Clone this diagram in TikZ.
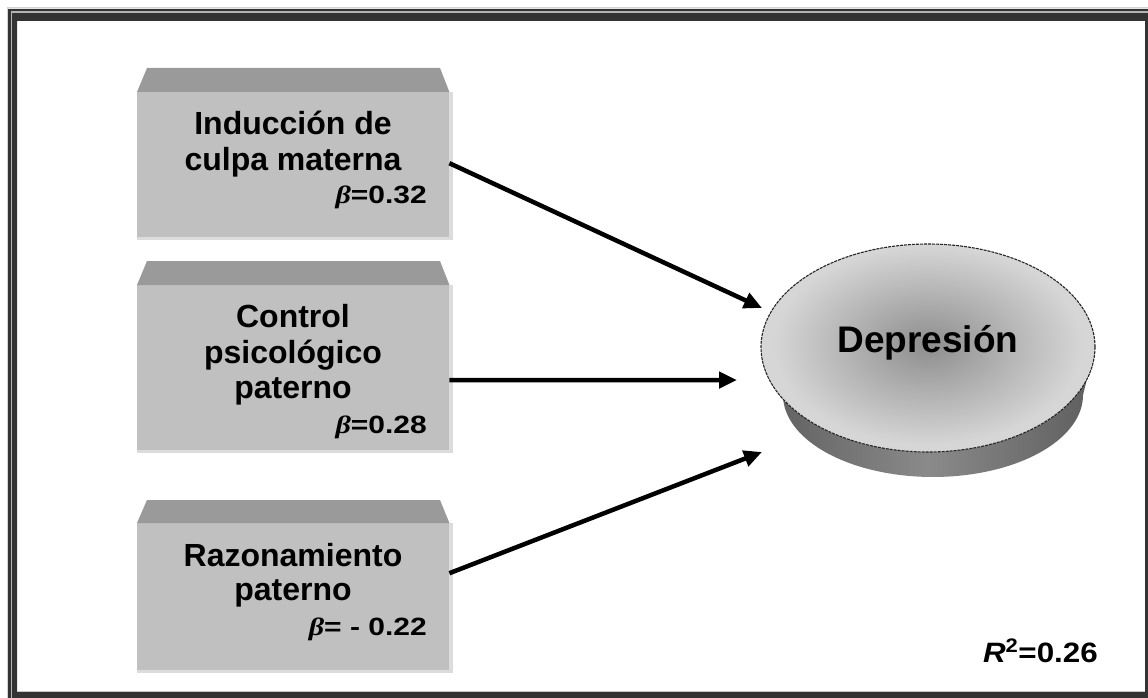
\documentclass[tikz,border=0pt]{standalone}
\usepackage{fontspec}
\usepackage{graphicx}
\setmainfont{Liberation Sans}
\newfontfamily\grk{Liberation Serif}
\usetikzlibrary{arrows.meta}
\definecolor{boxfront}{HTML}{C0C0C0}
\definecolor{boxtop}{HTML}{9A9A9A}
\definecolor{boxedge}{HTML}{DCDCDC}
\definecolor{framedark}{HTML}{333333}
\definecolor{framelight}{HTML}{B4B4B4}
\definecolor{sidedark}{HTML}{5E5E5E}
\definecolor{sidemid}{HTML}{8A8A8A}
\definecolor{topin}{HTML}{8E8E8E}
\definecolor{topout}{HTML}{D6D6D6}
\tikzset{
  front/.style={fill=boxfront, inner sep=0pt, minimum width=312pt, anchor=north west},
  lbl/.style={font=\bfseries\fontsize{32}{37}\selectfont, anchor=base, inner sep=0pt},
  coef/.style={font=\bfseries\fontsize{25}{30}\selectfont, anchor=base east, inner sep=0pt},
  conn/.style={line width=4.5pt, -{Triangle[length=18pt,width=16pt]}},
}
\newcommand{\betasym}{{\grk\itshape β}}
\newcommand{\topface}{plot[domain=0:180, samples=90] ({928+167*cos(\x)},{347-103*sin(\x)})
  -- plot[domain=180:360, samples=90] ({928+167*cos(\x)},{347-105*sin(\x)}) -- cycle}
\begin{document}
\begin{tikzpicture}[x=1pt,y=-1pt]
\useasboundingbox (0,0) rectangle (1148,698);
% frame
\fill[white] (0,0) rectangle (1148,698);
\fill[framedark, even odd rule] (8,9) rectangle (1148,698) (17,21) rectangle (1145,692);
\draw[framelight, line width=1.3pt] (11.8,698) -- (11.8,12) -- (1148,12);
\draw[gray!35, line width=1pt] (7,698) -- (7,7.5) -- (1148,7.5);
\draw[gray!45, line width=0.8pt] (17,691.5) -- (1145,691.5);

% box 1
\fill[boxedge] (137,92) rectangle (453,240);
\node[front, minimum height=145pt] (b1) at (137,92) {};
\fill[boxtop] (b1.north west) -- (147,68) -- (440,68) -- (b1.north east) -- cycle;
\node[lbl] (b1l1) at (293,135) {Inducción de};
\node[lbl] (b1l2) at (293,170) {culpa materna};
\node[coef] (b1c) at (427,203) {\scalebox{1.2}[1]{\betasym=0.32}};

% box 2
\fill[boxedge] (137,285) rectangle (453,453);
\node[front, minimum height=165pt] (b2) at (137,285) {};
\fill[boxtop] (b2.north west) -- (147,261) -- (440,261) -- (b2.north east) -- cycle;
\node[lbl] (b2l1) at (293,327) {Control};
\node[lbl] (b2l2) at (293,363) {psicológico};
\node[lbl] (b2l3) at (293,398) {paterno};
\node[coef] (b2c) at (427,433) {\scalebox{1.2}[1]{\betasym=0.28}};

% box 3
\fill[boxedge] (137,523) rectangle (453,673);
\node[front, minimum height=147pt] (b3) at (137,523) {};
\fill[boxtop] (b3.north west) -- (147,500) -- (440,500) -- (b3.north east) -- cycle;
\node[lbl] (b3l1) at (293,566) {Razonamiento};
\node[lbl] (b3l2) at (293,600) {paterno};
\node[coef] (b3c) at (427,635) {\scalebox{1.2}[1]{\betasym= - 0.22}};

% cylinder side
\shade[left color=sidedark, right color=sidedark, middle color=sidemid]
  plot[domain=180:360, samples=80] ({933+150*cos(\x)},{395-82*sin(\x)})
  -- (1095,347)
  -- plot[domain=360:180, samples=80] ({928+167*cos(\x)},{347-105*sin(\x)})
  -- cycle;
% cylinder top face
\fill[topout] \topface;
\begin{scope}
  \clip \topface;
  \shade[inner color=topin, outer color=topout] (773,245) rectangle (1083,445);
\end{scope}
\draw[black!85, line width=1.1pt, dash pattern=on 3pt off 1pt] \topface;
\node[font=\bfseries\fontsize{37}{42}\selectfont, inner sep=0pt] (dep) at (928,343) {Depresión};

% arrows
\coordinate (t1) at (762,308);
\coordinate (t2) at (737,380);
\coordinate (t3) at (762,452);
\draw[conn] ([yshift=1.5pt]b1.east) -- (t1);
\draw[conn] ([yshift=-12.5pt]b2.east) -- (t2);
\draw[conn] ([yshift=23.5pt]b3.east) -- (t3);

% R squared
\node[anchor=base east, inner sep=0pt, font=\bfseries\fontsize{28}{32}\selectfont] (r2) at (1098,662)
  {\scalebox{1.12}[1]{\textit{R}\textsuperscript{2}=0.26}};
\end{tikzpicture}
\end{document}
